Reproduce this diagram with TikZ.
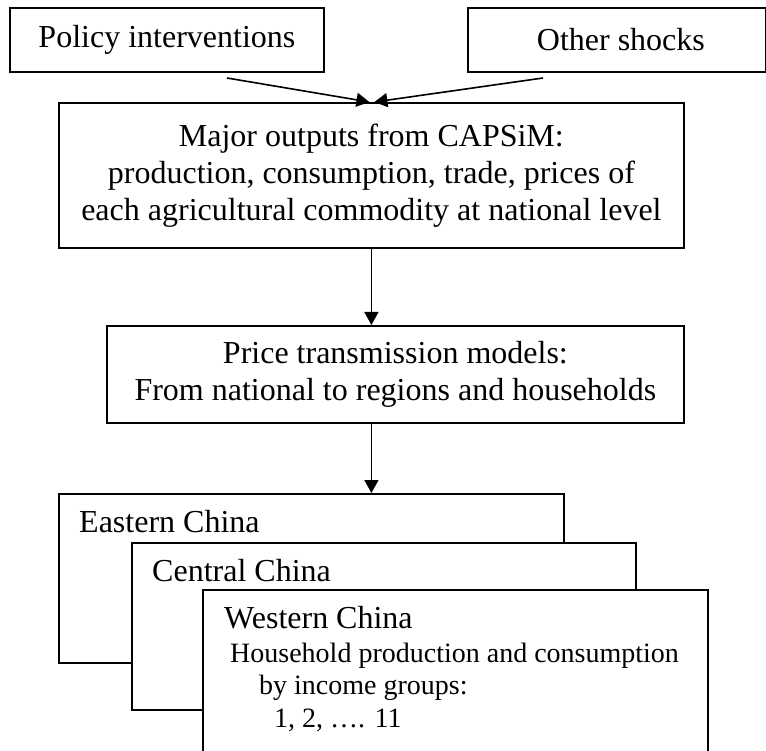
\documentclass[tikz,border=0pt]{standalone}
\usepackage{fontspec}
\setmainfont{Liberation Serif}
\usetikzlibrary{arrows.meta}
\begin{document}
\begin{tikzpicture}[x=1pt,y=-1pt,
  box/.style={draw,line width=1.8pt,fill=white,inner sep=0pt,anchor=north west,
    font=\fontsize{32}{37}\selectfont,align=center},
  lbl/.style={inner sep=0pt,anchor=base west,font=\fontsize{32}{37}\selectfont},
  small/.style={inner sep=0pt,anchor=base west,font=\fontsize{28}{33}\selectfont},
  arr/.style={-{Triangle[length=13pt,width=14pt]},line width=1.6pt}]
\clip (0,0) rectangle (766,751);
\fill[white] (0,0) rectangle (766,751);
% top boxes
\node[box,minimum width=314pt,minimum height=64pt] (policy) at (9,7) {Policy interventions};
\node[box,minimum width=298pt,minimum height=64pt] (other) at (467,7) {\hspace*{8pt}Other shocks};
% CAPSiM box
\node[box,minimum width=625pt,minimum height=145pt] (major) at (58,102)
  {Major outputs from CAPSiM:\\production, consumption, trade, prices of\\each agricultural commodity at national level};
% price transmission box
\node[box,minimum width=577pt,minimum height=97pt] (price) at (106,325)
  {Price transmission models:\\From national to regions and households};
% stacked regional boxes
\node[box,minimum width=505pt,minimum height=169pt] (eastern) at (58,493) {};
\node[lbl] (eastlbl) at (79,532) {Eastern China};
\node[box,minimum width=504pt,minimum height=167pt] (central) at (131,542) {};
\node[lbl] (centlbl) at (152,581) {Central China};
\node[box,minimum width=505pt,minimum height=172pt] (western) at (202,589) {};
\node[lbl] (westlbl) at (224,628) {Western China};
\node[small] (hh1) at (230,662) {Household production and consumption};
\node[small] (hh2) at (259,694) {by income groups:};
\node[small] (hh3) at (274,727) {1, 2, …. 11};
% connectors
\coordinate (ps) at (227,78);
\coordinate (os) at (543,78);
\draw[arr] (ps) -- ([xshift=-2pt]major.north);
\draw[arr] (os) -- ([xshift=3pt]major.north);
\draw[arr] (major.south) -- (major.south |- price.north);
\draw[arr] (major.south |- price.south) -- (major.south |- eastern.north);
\end{tikzpicture}
\end{document}
